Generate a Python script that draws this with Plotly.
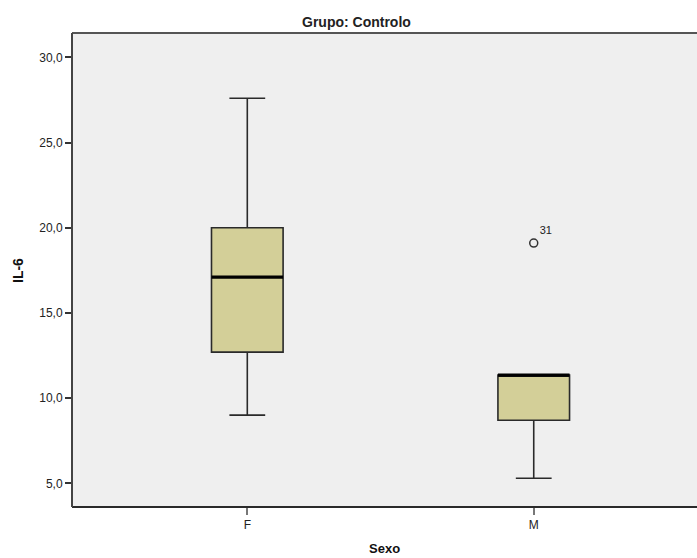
import plotly.graph_objects as go

# Data
categories = ["F", "M"]
q1 = [12.7, 8.7]
median = [17.1, 11.35]
q3 = [20.0, 11.35]
lower_whisker = [9.0, 5.3]
upper_whisker = [27.6, 11.35]
outlier_cat = ["M"]
outlier_val = [19.1]
outlier_label = ["31"]
y_ticks = [5, 10, 15, 20, 25, 30]

pos = {c: i for i, c in enumerate(categories)}
box_w = 0.25
fill = "#D3CF98"

fig = go.Figure()
fig.add_trace(go.Box(
    x=[pos[c] for c in categories],
    q1=q1, median=median, q3=q3,
    lowerfence=lower_whisker, upperfence=upper_whisker,
    width=box_w, whiskerwidth=0.5,
    fillcolor=fill,
    line=dict(color="#2a2a2a", width=1.6),
    boxpoints=False, hoverinfo="skip", showlegend=False,
))
for i, c in enumerate(categories):
    fig.add_trace(go.Scatter(
        x=[pos[c] - box_w / 2, pos[c] + box_w / 2], y=[median[i], median[i]],
        mode="lines", line=dict(color="#000000", width=3.2),
        hoverinfo="skip", showlegend=False,
    ))
fig.add_trace(go.Scatter(
    x=[pos[c] for c in outlier_cat], y=outlier_val,
    mode="markers+text", text=outlier_label, textposition="top right",
    textfont=dict(family="Liberation Sans, Arial", size=11, color="#222"),
    marker=dict(symbol="circle-open", size=8, color="#333", line=dict(width=1.5, color="#333")),
    hoverinfo="skip", showlegend=False,
))

W, H = 697, 558
L, R, T, B = 72, 0, 33, 51
pw, ph = W - L - R, H - T - B

def px(xp):
    return (xp - L) / pw

def py(yp):
    return (H - B - yp) / ph

frame = dict(type="line", xref="paper", yref="paper", layer="above")
shapes = [
    # grey plotting background, drawn beneath the data and running past the right edge
    dict(type="rect", xref="paper", yref="paper", layer="below",
         x0=0, x1=1.05, y0=0, y1=1, fillcolor="#EFEFEF", line=dict(width=0)),
    dict(frame, x0=0, x1=1.05, y0=1, y1=1, line=dict(color="#555", width=2)),
    dict(frame, x0=0, x1=1.05, y0=0, y1=0, line=dict(color="#2a2a2a", width=2)),
    dict(frame, x0=0, x1=0, y0=0, y1=1, line=dict(color="#444", width=2)),
]

fig.update_layout(
    width=W, height=H,
    margin=dict(l=L, r=R, t=T, b=B),
    paper_bgcolor="white", plot_bgcolor="rgba(0,0,0,0)",
    separators=",.",
    font=dict(family="Liberation Sans, Arial", size=12, color="#222"),
    shapes=shapes,
    xaxis=dict(
        range=[-0.612, 1.570], tickmode="array",
        tickvals=[pos[c] for c in categories], ticktext=categories,
        showgrid=False, zeroline=False, showline=False,
        ticks="outside", ticklen=7, tickwidth=2, tickcolor="#777",
        tickfont=dict(size=12, color="#222"),
    ),
    yaxis=dict(
        range=[3.61, 31.43], tickmode="array", tickvals=y_ticks,
        tickformat=".1f",
        showgrid=False, zeroline=False, showline=False,
        ticks="outside", ticklen=6, tickwidth=2, tickcolor="#333",
        tickfont=dict(size=12, color="#222"),
    ),
    annotations=[
        dict(text="<b>Grupo: Controlo</b>", xref="paper", yref="paper",
             x=px(356), y=py(21.5), showarrow=False, xanchor="center", yanchor="middle",
             font=dict(size=14, color="#222")),
        dict(text="<b>IL-6</b>", xref="paper", yref="paper",
             x=px(18), y=py(271), textangle=-90, showarrow=False,
             xanchor="center", yanchor="middle", font=dict(size=14, color="#111")),
        dict(text="<b>Sexo</b>", xref="paper", yref="paper",
             x=px(384.5), y=py(548), showarrow=False,
             xanchor="center", yanchor="middle", font=dict(size=13, color="#111")),
    ],
)

fig.write_html("out.html", config={"displayModeBar": False})
